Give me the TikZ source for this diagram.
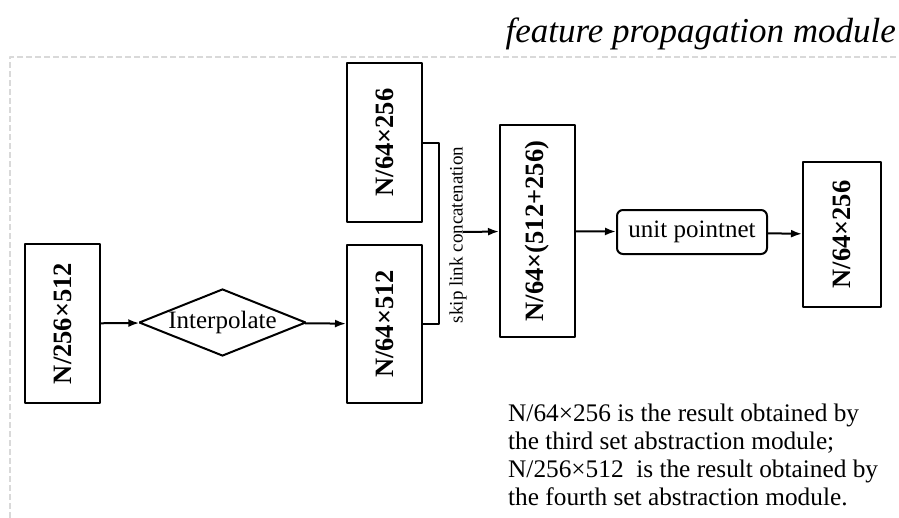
\documentclass[tikz,border=0pt]{standalone}
\usepackage{fontspec}
\setmainfont{Liberation Serif}
\usetikzlibrary{shapes.geometric,arrows.meta}
\tikzset{
  vblock/.style={draw,rectangle,rotate=90,line width=2pt,inner sep=0pt,
    font=\fontsize{26.5}{26.5}\selectfont\bfseries},
  flow/.style={->,line width=2pt},
}
\begin{document}
\begin{tikzpicture}[>={Latex[length=11pt,width=8pt]},line join=bevel,x=1pt,y=-1pt]
    \useasboundingbox (0,0) rectangle (899,517);
    %%
    \draw [dashed,dash pattern=on 6pt off 3pt,gray!30,line width=1.5pt] (905,57) -- (10,57) -- (10,525);
    \node (title) at (896,42) [anchor=base east,inner sep=0pt,font=\fontsize{35}{35}\selectfont\itshape] {feature propagation module};
    %%
    \node (n256x512) at (62.5,323.5) [vblock,minimum width=159pt,minimum height=75pt] {N/256×512};
    \node (interp) at (222.5,322.5) [draw,diamond,line width=2pt,inner sep=0pt,aspect=2.5,minimum width=167pt,minimum height=67pt,font=\fontsize{25}{25}\selectfont] {Interpolate};
    \node (n64x512) at (384.5,324) [vblock,minimum width=158pt,minimum height=75pt] {N/64×512};
    \node (n64x256) at (384.5,142.5) [vblock,minimum width=159pt,minimum height=75pt] {N/64×256};
    \node (concat) at (537.5,231) [vblock,minimum width=212pt,minimum height=75pt] {N/64×(512+256)};
    \node (unit) at (692,232) [draw,rectangle,rounded corners=6pt,line width=2pt,minimum width=150pt,minimum height=44pt,font=\fontsize{25}{25}\selectfont] {unit pointnet};
    \node (out) at (842,234.5) [vblock,minimum width=145pt,minimum height=78pt] {N/64×256};
    \node (skiplabel) at (458,235) [rotate=90,inner sep=0pt,font=\fontsize{19}{19}\selectfont] {skip link concatenation};
    %
    \coordinate (skiptop) at (439,143);
    \coordinate (skipbot) at (439,324);
    \coordinate (catin) at (463,232);
    \draw [flow] (n256x512) -- (interp);
    \draw [flow] (interp) -- (n64x512);
    \draw [line width=2pt] (n64x256.south |- skiptop) -- (skiptop) -- (skipbot) -- (n64x512.south |- skipbot);
    \draw [flow] (catin) -- (concat);
    \draw [flow] (concat) -- (unit);
    \draw [flow] (unit) -- (out);
    %
    \node (note) at (508,404) [anchor=north west,inner sep=0pt,align=left,font=\fontsize{25.3}{28}\selectfont] {N/64×256 is the result obtained by\\the third set abstraction module;\\N/256×512\ \ is the result obtained by\\the fourth set abstraction module.};
    %
\end{tikzpicture}
\end{document}
